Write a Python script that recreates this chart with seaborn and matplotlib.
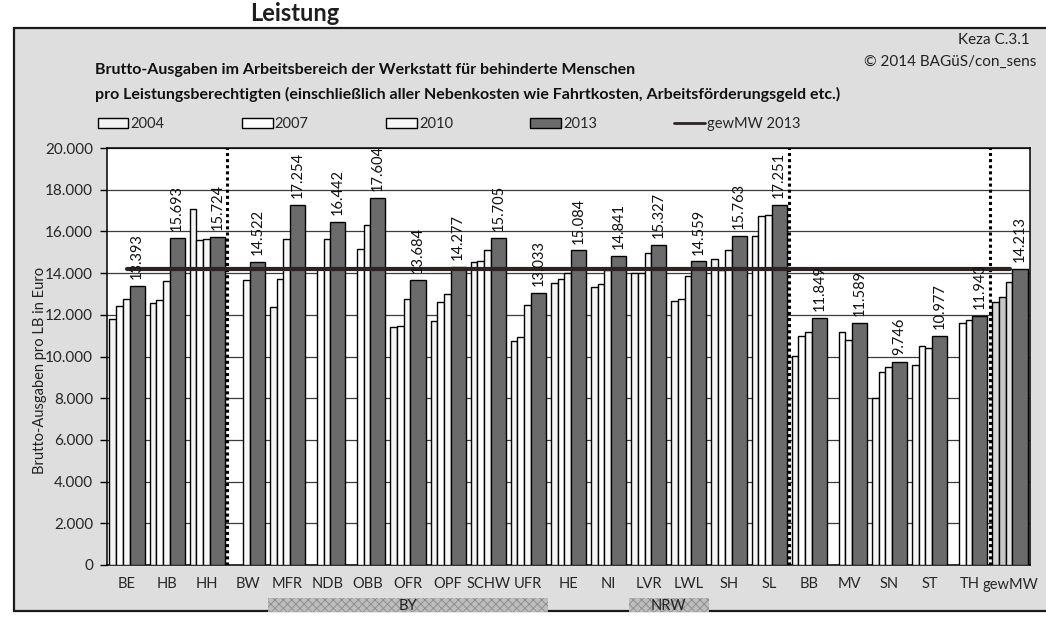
import numpy as np
import pandas as pd
import matplotlib
matplotlib.use("Agg")
import matplotlib.pyplot as plt
import matplotlib.transforms as mtransforms
from matplotlib.patches import Rectangle, Patch
from matplotlib.lines import Line2D
import seaborn as sns

# ---- data -------------------------------------------------------------
regions = ["BE", "HB", "HH", "BW", "MFR", "NDB", "OBB", "OFR", "OPF", "SCHW",
           "UFR", "HE", "NI", "LVR", "LWL", "SH", "SL", "BB", "MV", "SN",
           "ST", "TH", "gewMW"]
years = ["2004", "2007", "2010", "2013"]
nan = np.nan
v2004 = [11800, 12570, 17090, nan, 12360, nan, nan, 11430, 11720, 14550,
         10730, 13540, 13330, 13990, 12670, 14680, 15790, 10020, nan, 8030,
         9610, nan, 12590]
v2007 = [12440, 12730, 15600, nan, 13730, 14190, 15140, 11450, 12610, 14600,
         10940, 13700, 13470, 14020, 12750, 14140, 16740, 10980, 11190, 9240,
         10520, 11620, 12860]
v2010 = [12760, 13600, 15620, 13680, 15650, 15620, 16330, 12780, 13010, 15130,
         12450, 14020, 14160, 14980, 13860, 15130, 16790, 11180, 10800, 9510,
         10410, 11730, 13550]
v2013 = [13393, 15693, 15724, 14522, 17254, 16442, 17604, 13684, 14277, 15705,
         13033, 15084, 14841, 15327, 14559, 15763, 17251, 11849, 11589, 9746,
         10977, 11943, 14213]
gewmw_2013 = 14213
y_ticks = [0, 2000, 4000, 6000, 8000, 10000, 12000, 14000, 16000, 18000, 20000]
band_groups = [("BY", "MFR", "UFR"), ("NRW", "LVR", "LWL")]
separators_after = ["HH", "SL", "TH"]

series = {"2004": v2004, "2007": v2007, "2010": v2010, "2013": v2013}

# ---- styling ----------------------------------------------------------
bar_style = {
    "2004": dict(offset=-0.355, width=0.167, color="#f3f3f3"),
    "2007": dict(offset=-0.188, width=0.167, color="#ffffff"),
    "2010": dict(offset=-0.021, width=0.167, color="#f7f7f7"),
    "2013": dict(offset=0.250, width=0.376, color="#6b6b6b"),
}
mean_group_colors = {"2004": "#d6d6d6", "2007": "#c6c6c6", "2010": "#e2e2e2"}
line_color = "#2e2222"


def de_num(v):
    return f"{v:,.0f}".replace(",", ".")


sns.set_theme(style="white")
plt.rcParams["font.family"] = ["Lato", "DejaVu Sans"]
plt.rcParams["hatch.linewidth"] = 0.6

W, H = 1046, 617
fig = plt.figure(figsize=(W / 100, H / 100), dpi=100)
fig.patch.set_facecolor("white")


def fx(px):
    return px / W


def fy(py):
    return 1 - py / H


# grey chart panel behind everything
fig.patches.append(Rectangle((fx(14), fy(611)), 1.0, fy(28) - fy(611),
                             transform=fig.transFigure, facecolor="#dedede",
                             edgecolor="#1a1a1a", lw=1.6, zorder=-10))

# heading above the panel
fig.text(fx(250), fy(21), "Leistung", fontsize=17, fontweight="bold",
         color="#1e1e1e", va="baseline", ha="left")

ax = fig.add_axes([fx(107), fy(565), fx(1030) - fx(107), fy(148) - fy(565)])
ax.set_zorder(1)
ax.set_facecolor("white")

# ---- bars -------------------------------------------------------------
for yr in years:
    df = pd.DataFrame({"region": regions, "value": series[yr]})
    st = bar_style[yr]
    sns.barplot(data=df, x="region", y="value", order=regions,
                color=st["color"], saturation=1, width=0.2,
                edgecolor="black", linewidth=1.0, errorbar=None,
                ax=ax, zorder=3)
    for bar in ax.containers[-1]:
        h = bar.get_height()
        if not np.isfinite(h) or h <= 0:
            bar.set_visible(False)
            continue
        idx = int(round(bar.get_x() + bar.get_width() / 2))
        bar.set_x(idx + st["offset"] - st["width"] / 2)
        bar.set_width(st["width"])
        if regions[idx] == "gewMW" and yr in mean_group_colors:
            bar.set_facecolor(mean_group_colors[yr])

# value labels on the 2013 bars
for i, v in enumerate(v2013):
    ax.annotate(de_num(v), (i + bar_style["2013"]["offset"], v),
                xytext=(0, 5), textcoords="offset points", rotation=90,
                ha="center", va="bottom", fontsize=10.5, color="#111111",
                zorder=6)

# weighted mean 2013 as a line across the categories
sns.lineplot(x=np.arange(len(regions)), y=[gewmw_2013] * len(regions),
             ax=ax, color=line_color, lw=3, zorder=5)

# dotted separators between region groups
for r in separators_after:
    ax.axvline(regions.index(r) + 0.5, color="black", ls=(0, (1, 1)),
               lw=2.2, zorder=4)

# ---- axes -------------------------------------------------------------
ax.set_xlim(-0.5, len(regions) - 0.5)
ax.set_ylim(0, 20000)
ax.set_yticks(y_ticks)
ax.set_yticklabels([de_num(t) for t in y_ticks], fontsize=11)
ax.set_xticks(range(len(regions)))
ax.set_xticklabels(regions, fontsize=10.5)
ax.set_xticks(np.arange(len(regions) + 1) - 0.5, minor=True)
ax.tick_params(axis="x", which="major", length=0, pad=9)
ax.tick_params(axis="x", which="minor", length=5, width=1, color="black",
               direction="out")
ax.tick_params(axis="y", length=5, width=1, color="black", direction="out",
               pad=5, left=True)
ax.set_xlabel("")
ax.set_ylabel("")
ax.yaxis.grid(True, color="#3c3c3c", lw=0.9)
ax.set_axisbelow(True)
for s in ax.spines.values():
    s.set_visible(True)
    s.set_color("black")
    s.set_linewidth(1.1)

# group bands under the category labels
trans = mtransforms.blended_transform_factory(ax.transData, ax.transAxes)
for name, a, b in band_groups:
    i0, i1 = regions.index(a), regions.index(b)
    ax.add_patch(Rectangle((i0 - 0.5, -0.112), i1 - i0 + 1, 0.032,
                           transform=trans, clip_on=False,
                           facecolor="#bdbdbd", edgecolor="#8a8a8a", lw=0,
                           hatch="xxxx", zorder=1))
    ax.text((i0 + i1) / 2, -0.098, name, transform=trans, ha="center",
            va="center", fontsize=10.5, color="#222222", zorder=2)

fig.text(fx(40), fy(370), "Brutto-Ausgaben pro LB in Euro", rotation=90,
         ha="center", va="center", fontsize=10.5, color="#222222")

# ---- titles -----------------------------------------------------------
fig.text(fx(95), fy(70),
         "Brutto-Ausgaben im Arbeitsbereich der Werkstatt für behinderte Menschen",
         fontsize=11.5, fontweight="bold", va="center", ha="left", color="#111111")
fig.text(fx(95), fy(94),
         "pro Leistungsberechtigten (einschließlich aller Nebenkosten wie "
         "Fahrtkosten, Arbeitsförderungsgeld etc.)",
         fontsize=11.5, fontweight="bold", va="center", ha="left", color="#111111")
fig.text(fx(1030), fy(40), "Keza C.3.1", fontsize=11, va="center", ha="right",
         color="#222222")
fig.text(fx(1036), fy(62), "© 2014 BAGüS/con_sens", fontsize=11, va="center",
         ha="right", color="#222222")

# ---- legend -----------------------------------------------------------
handles = [Patch(facecolor=bar_style[y]["color"], edgecolor="black", lw=1.0)
           for y in years]
handles.append(Line2D([], [], color=line_color, lw=2))
labels = years + ["gewMW 2013"]
fig.legend(handles, labels, loc="center left",
           bbox_to_anchor=(fx(92), fy(124)), ncol=5, frameon=False,
           fontsize=10.5, handlelength=2.1, handleheight=0.7,
           handletextpad=0.15, columnspacing=5.3, borderaxespad=0)

fig.savefig("out.png", dpi=100, facecolor=fig.get_facecolor())
